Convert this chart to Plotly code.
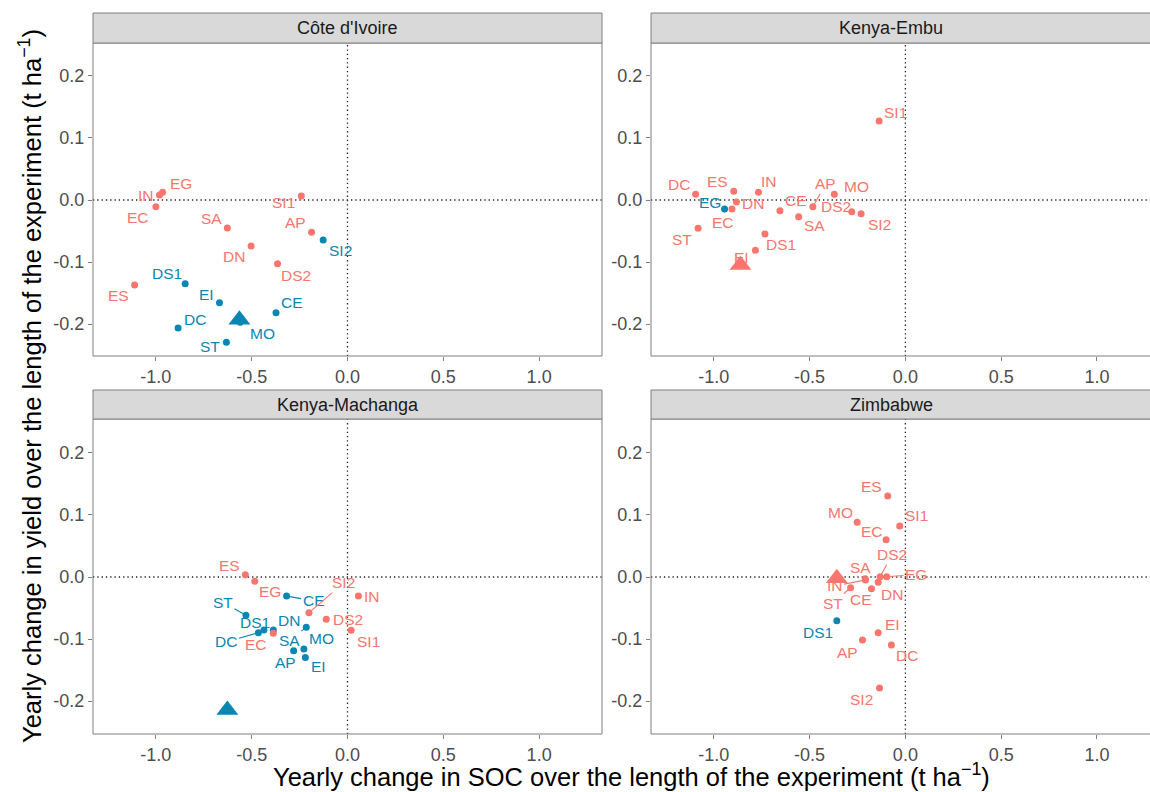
import plotly.graph_objects as go

# ---------------- data ----------------
sites = ["Côte d'Ivoire", "Kenya-Embu", "Kenya-Machanga", "Zimbabwe"]

trt_civ = ["IN", "EG", "EC", "SI1", "SA", "AP", "SI2", "DN", "DS2", "DS1", "ES", "EI", "CE", "DC", "MO", "ST"]
soc_civ = [-0.981, -0.965, -1.0, -0.241, -0.627, -0.1875, -0.127, -0.503, -0.365, -0.847, -1.111, -0.668, -0.373, -0.884, -0.56, -0.632]
yld_civ = [0.008, 0.0124, -0.011, 0.0065, -0.045, -0.052, -0.0645, -0.074, -0.1027, -0.135, -0.137, -0.1656, -0.182, -0.2065, -0.197, -0.2296]
grp_civ = ["r", "r", "r", "r", "r", "r", "b", "r", "r", "b", "r", "b", "b", "b", "b", "b"]
mean_civ = [-0.564, -0.193, "b"]

trt_emb = ["SI1", "DC", "ES", "IN", "AP", "MO", "EG", "DN", "CE", "DS2", "EC", "SA", "SI2", "ST", "DS1", "EI"]
soc_emb = [-0.137, -1.095, -0.896, -0.767, -0.483, -0.371, -0.944, -0.882, -0.655, -0.28, -0.905, -0.557, -0.231, -1.082, -0.733, -0.783]
yld_emb = [0.1274, 0.0092, 0.014, 0.0124, -0.0108, 0.0092, -0.0145, -0.0032, -0.0172, -0.0188, -0.0145, -0.027, -0.022, -0.0457, -0.0548, -0.0812]
grp_emb = ["r", "r", "r", "r", "r", "r", "b", "r", "r", "r", "r", "r", "r", "r", "r", "r"]
mean_emb = [-0.861, -0.105, "r"]

trt_mac = ["ES", "EG", "CE", "SI2", "IN", "ST", "DS1", "DN", "DS2", "DC", "EC", "SA", "MO", "SI1", "AP", "EI"]
soc_mac = [-0.533, -0.484, -0.318, -0.201, 0.057, -0.53, -0.436, -0.387, -0.111, -0.465, -0.387, -0.215, -0.2275, 0.019, -0.281, -0.22]
yld_mac = [0.0037, -0.007, -0.0306, -0.0575, -0.0306, -0.0618, -0.0855, -0.0855, -0.0683, -0.0898, -0.0909, -0.0812, -0.116, -0.086, -0.119, -0.130]
grp_mac = ["r", "r", "b", "r", "r", "b", "b", "b", "r", "b", "r", "b", "b", "r", "b", "b"]
mean_mac = [-0.627, -0.2145, "b"]

trt_zim = ["ES", "MO", "SI1", "EC", "DS2", "SA", "EG", "IN", "DN", "CE", "ST", "DS1", "EI", "AP", "DC", "SI2"]
soc_zim = [-0.092, -0.2516, -0.0295, -0.1007, -0.132, -0.21, -0.097, -0.208, -0.142, -0.177, -0.286, -0.358, -0.142, -0.224, -0.073, -0.135]
yld_zim = [0.1306, 0.0882, 0.0823, 0.0602, 0.0005, -0.003, 0.0005, -0.0048, -0.0086, -0.0188, -0.0172, -0.0704, -0.0898, -0.1016, -0.1097, -0.179]
grp_zim = ["r", "r", "r", "r", "r", "r", "r", "r", "r", "r", "r", "b", "r", "r", "r", "r"]
mean_zim = [-0.358, -0.002, "r"]

x_ticks = [-1.0, -0.5, 0.0, 0.5, 1.0]
x_ticklabels = ["-1.0", "-0.5", "0.0", "0.5", "1.0"]
y_ticks = [-0.2, -0.1, 0.0, 0.1, 0.2]
y_ticklabels = ["-0.2", "-0.1", "0.0", "0.1", "0.2"]

# ---------------- label placement (pixel offsets: dx, dy(down), segment) ----------------
lab_civ = {"IN": (-14, 0, 0), "EG": (18, -9, 0), "EC": (-18, 11, 0), "SI1": (-18, 7, 0), "SA": (-16, -9, 0),
           "AP": (-16, -10, 0), "SI2": (17, 11, 0), "DN": (-17, 11, 0), "DS2": (18, 12, 0), "DS1": (-18, -10, 0),
           "ES": (-16, 11, 0), "EI": (-13, -8, 0), "CE": (16, -10, 0), "DC": (17, -9, 0), "MO": (22, 11, 0),
           "ST": (-16, 4, 0)}
lab_emb = {"SI1": (16, -9, 0), "DC": (-17, -10, 0), "ES": (-16, -10, 0), "IN": (11, -11, 0), "AP": (13, -23, 1),
           "MO": (22, -8, 0), "EG": (-15, -6, 0), "DN": (17, 2, 0), "CE": (16, -10, 0), "DS2": (-16, -5, 0),
           "EC": (-9, 14, 0), "SA": (16, 9, 0), "SI2": (18, 11, 0), "ST": (-16, 11, 0), "DS1": (16, 11, 0),
           "EI": (-14, 7, 0)}
lab_mac = {"ES": (-16, -9, 0), "EG": (15, 10, 0), "CE": (27, 5, 1), "SI2": (35, -30, 1), "IN": (14, 1, 0),
           "ST": (-23, -13, 1), "DS1": (-9, -8, 0), "DN": (16, -10, 0), "DS2": (22, 0, 0), "DC": (-32, 9, 1),
           "EC": (-17, 11, 0), "SA": (-17, 13, 1), "MO": (18, -10, 0), "SI1": (17, 11, 0), "AP": (-8, 12, 0),
           "EI": (13, 9, 0)}
lab_zim = {"ES": (-16, -10, 0), "MO": (-17, -10, 0), "SI1": (17, -10, 0), "EC": (-14, -8, 0), "DS2": (12, -22, 1),
           "SA": (-5, -11, 0), "EG": (29, -2, 1), "IN": (-31, 6, 1), "DN": (14, 12, 0), "CE": (-10, 11, 0),
           "ST": (-18, 16, 1), "DS1": (-19, 12, 0), "EI": (14, -8, 0), "AP": (-15, 12, 0), "DC": (16, 10, 0),
           "SI2": (-18, 12, 0)}

panels = [
    (trt_civ, soc_civ, yld_civ, grp_civ, mean_civ, lab_civ),
    (trt_emb, soc_emb, yld_emb, grp_emb, mean_emb, lab_emb),
    (trt_mac, soc_mac, yld_mac, grp_mac, mean_mac, lab_mac),
    (trt_zim, soc_zim, yld_zim, grp_zim, mean_zim, lab_zim),
]

# ---------------- style / layout ----------------
W, H = 1150, 792
RED = "#F8766D"
BLUE = "#0A86B3"
COL = {"r": RED, "b": BLUE}
FONT = "Liberation Sans, Arial, Helvetica, sans-serif"

xdom = [[93 / W, 602 / W], [651 / W, 1.0], [93 / W, 602 / W], [651 / W, 1.0]]
ydom = [[1 - 356 / H, 1 - 43 / H], [1 - 356 / H, 1 - 43 / H], [1 - 734 / H, 1 - 419 / H], [1 - 734 / H, 1 - 419 / H]]
xrng = [[-1.328, 1.328], [-1.328, 1.277], [-1.328, 1.328], [-1.328, 1.277]]
yrng = [[-0.2516, 0.2532], [-0.2516, 0.2532], [-0.2532, 0.2548], [-0.2532, 0.2548]]
strip_y = [[1 - 43 / H, 1 - 13 / H], [1 - 43 / H, 1 - 13 / H], [1 - 419 / H, 1 - 390 / H], [1 - 419 / H, 1 - 390 / H]]
strip_cx = [347.5 / W, 891 / W, 347.5 / W, 891 / W]

fig = go.Figure()
annotations = []
shapes = []

for i, (trt, soc, yld, grp, mean, lab) in enumerate(panels):
    sfx = "" if i == 0 else str(i + 1)
    xa, ya = "x" + sfx, "y" + sfx
    # points
    fig.add_trace(go.Scatter(
        x=soc, y=yld, mode="markers", xaxis=xa, yaxis=ya,
        marker=dict(size=7, color=[COL[g] for g in grp], line=dict(width=0)),
        text=trt, hoverinfo="text", showlegend=False))
    # mean triangle
    fig.add_trace(go.Scatter(
        x=[mean[0]], y=[mean[1]], mode="markers", xaxis=xa, yaxis=ya,
        marker=dict(size=19, symbol="triangle-up", color=COL[mean[2]], line=dict(width=0)),
        hoverinfo="skip", showlegend=False))
    # labels
    for t, sx, sy, g in zip(trt, soc, yld, grp):
        dx, dy, seg = lab[t]
        if seg:
            annotations.append(dict(x=sx, y=sy, xref=xa, yref=ya, text=t, showarrow=True,
                                    ax=dx, ay=dy, arrowhead=0, arrowwidth=1.1, arrowcolor=COL[g],
                                    standoff=2, font=dict(family=FONT, size=15.5, color=COL[g])))
        else:
            annotations.append(dict(x=sx, y=sy, xref=xa, yref=ya, text=t, showarrow=False,
                                    xshift=dx, yshift=-dy,
                                    font=dict(family=FONT, size=15.5, color=COL[g])))
    # dotted zero lines
    shapes.append(dict(type="line", xref=xa, yref=ya + " domain", x0=0, x1=0, y0=0, y1=1,
                       line=dict(color="#222222", width=1.3, dash="1.3px,3px"), layer="below"))
    shapes.append(dict(type="line", xref=xa + " domain", yref=ya, x0=0, x1=1, y0=0, y1=0,
                       line=dict(color="#222222", width=1.3, dash="1.3px,3px"), layer="below"))
    # panel border
    x1 = xdom[i][1] if i in (0, 2) else 1.03
    shapes.append(dict(type="rect", xref="paper", yref="paper", x0=xdom[i][0], x1=x1,
                       y0=ydom[i][0], y1=ydom[i][1], line=dict(color="#7F7F7F", width=1),
                       fillcolor="rgba(0,0,0,0)", layer="above"))
    # strip
    shapes.append(dict(type="rect", xref="paper", yref="paper", x0=xdom[i][0], x1=x1,
                       y0=strip_y[i][0], y1=strip_y[i][1], line=dict(color="#7F7F7F", width=1),
                       fillcolor="#D9D9D9", layer="above"))
    annotations.append(dict(x=strip_cx[i], y=(strip_y[i][0] + strip_y[i][1]) / 2, xref="paper", yref="paper",
                            text=sites[i], showarrow=False, xanchor="center", yanchor="middle",
                            font=dict(family=FONT, size=18, color="#1A1A1A")))

    axis_common = dict(showgrid=False, zeroline=False, showline=False, ticks="outside", ticklen=4,
                       tickcolor="#7F7F7F", tickwidth=1,
                       tickfont=dict(family=FONT, size=18, color="#4D4D4D"))
    fig.update_layout(**{
        ("xaxis" + sfx): dict(domain=xdom[i], range=xrng[i], anchor=ya, tickvals=x_ticks,
                              ticktext=x_ticklabels, **axis_common),
        ("yaxis" + sfx): dict(domain=ydom[i], range=yrng[i], anchor=xa, tickvals=y_ticks,
                              ticktext=y_ticklabels, **axis_common),
    })

# axis titles
annotations.append(dict(x=631 / W, y=1 - 775 / H, xref="paper", yref="paper", showarrow=False,
                        text="Yearly change in SOC over the length of the experiment (t ha<sup>−1</sup>)",
                        xanchor="center", yanchor="middle",
                        font=dict(family=FONT, size=25.5, color="black")))
annotations.append(dict(x=30 / W, y=1 - 386 / H, xref="paper", yref="paper", showarrow=False,
                        text="Yearly change in yield over the length of the experiment (t ha<sup>−1</sup>)",
                        textangle=-90, xanchor="center", yanchor="middle",
                        font=dict(family=FONT, size=25.5, color="black")))

fig.update_layout(width=W, height=H, margin=dict(l=0, r=0, t=0, b=0),
                  plot_bgcolor="white", paper_bgcolor="white",
                  annotations=annotations, shapes=shapes, showlegend=False,
                  font=dict(family=FONT))

fig.write_html("out.html")
